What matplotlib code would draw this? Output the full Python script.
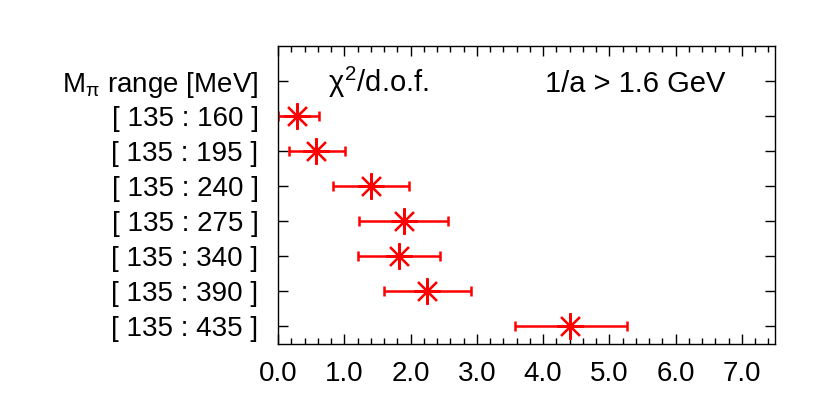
import matplotlib.pyplot as plt
from matplotlib.ticker import MultipleLocator

plt.rcParams['font.family'] = ['Liberation Sans', 'DejaVu Sans']
plt.rcParams['mathtext.fontset'] = 'custom'
plt.rcParams['mathtext.rm'] = 'Liberation Sans'
plt.rcParams['mathtext.it'] = 'Liberation Sans'

# data
ranges = ['[ 135 : 160 ]', '[ 135 : 195 ]', '[ 135 : 240 ]', '[ 135 : 275 ]',
          '[ 135 : 340 ]', '[ 135 : 390 ]', '[ 135 : 435 ]']
chi2 = [0.28, 0.58, 1.41, 1.90, 1.83, 2.25, 4.41]
err_lo = [0.28, 0.42, 0.58, 0.68, 0.63, 0.65, 0.84]
err_hi = [0.34, 0.43, 0.57, 0.66, 0.62, 0.66, 0.85]

ypos = list(range(len(ranges), 0, -1))

fig = plt.figure(figsize=(8.3, 4.15), dpi=100)
ax = fig.add_axes([278 / 830, 1 - 344 / 415, (775 - 278) / 830, (344 - 46) / 415])

ax.errorbar(chi2, ypos, xerr=[err_lo, err_hi], fmt='none', ecolor='red',
            elinewidth=1.8, capsize=3.5, capthick=1.8)
ax.plot(chi2, ypos, linestyle='none', marker=(8, 2, 0), markersize=19,
        markeredgecolor='red', markeredgewidth=1.6)

ax.set_xlim(0, 7.5)
ax.set_ylim(0.5, 9)
ax.xaxis.set_minor_locator(MultipleLocator(0.2))
ax.set_xticks([i * 1.0 for i in range(8)])
ax.set_xticklabels([f'{i:.1f}' for i in range(8)])

ax.set_yticks(ypos + [8])
ax.set_yticklabels(ranges + [r'M$_\pi$ range [MeV]'])

ax.tick_params(axis='both', which='both', direction='in', top=True, right=True,
               labelsize=20, width=1)
ax.tick_params(axis='both', which='major', length=7)
ax.tick_params(axis='both', which='minor', length=4)
ax.tick_params(axis='x', pad=12)
ax.tick_params(axis='y', pad=14)

for s in ax.spines.values():
    s.set_linewidth(1)

ax.text(328 / 830, 1 - 92 / 415, r'$\chi^2$/d.o.f.', transform=fig.transFigure,
        fontsize=21)
ax.text(725 / 830, 1 - 92 / 415, '1/a > 1.6 GeV', transform=fig.transFigure,
        fontsize=21, ha='right')

fig.savefig('out.png', dpi=100)
